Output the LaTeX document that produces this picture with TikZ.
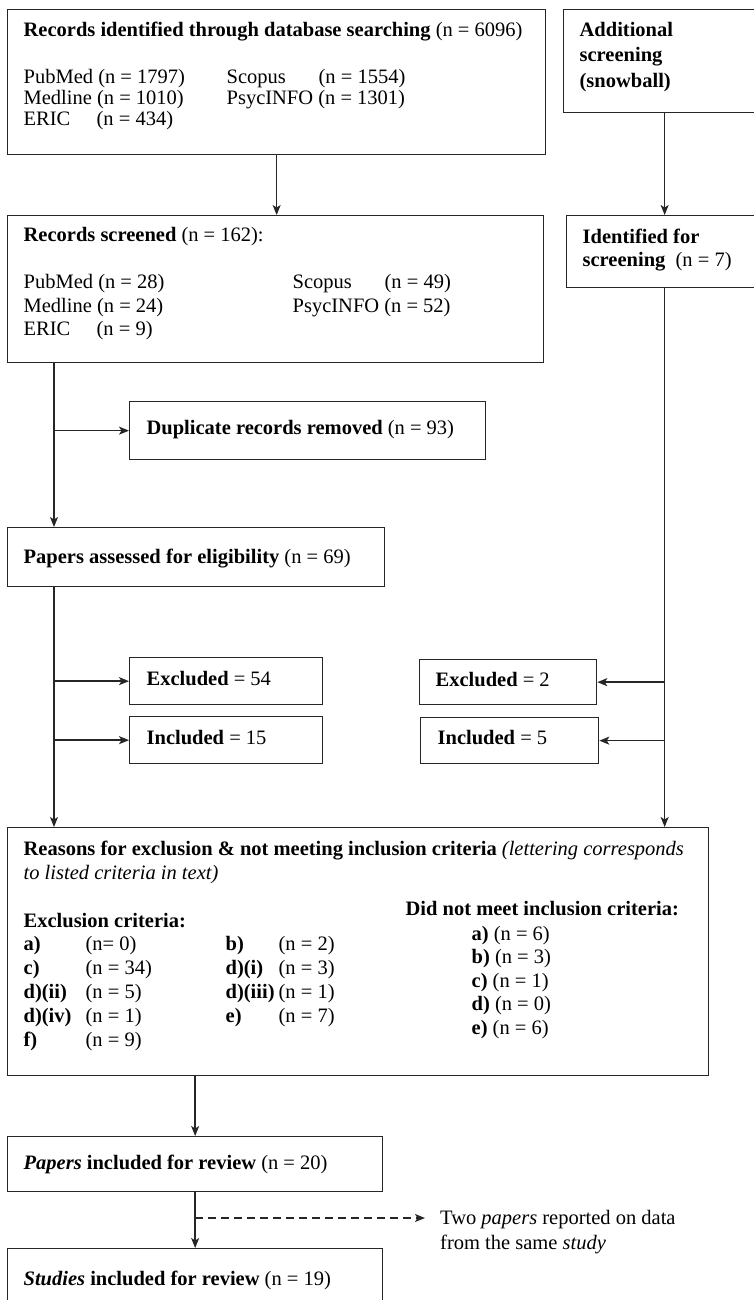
\documentclass[tikz,border=0pt]{standalone}
\usepackage{fontspec}
\setmainfont{Liberation Serif}
\usepackage{tikz}
\usetikzlibrary{arrows.meta}
\newcommand{\boxtext}[4]{\parbox[c][#2][t]{#1}{\raggedright\vspace*{#3}#4}}

\begin{document}
\begin{tikzpicture}[x=1pt,y=-1pt,every node/.style={font=\fontsize{20.5}{23.5}\selectfont},
  box/.style={draw=black!85,line width=1.3pt,anchor=north west,inner ysep=0pt,inner xsep=16pt},
  arr/.style={draw=black!85,line width=1.4pt,-{Stealth[length=10pt,width=8pt,inset=2.5pt]}}]
  \useasboundingbox (0,0) rectangle (754,1300);
  \clip (0,0) rectangle (754,1300);
  \node[box] (recs) at (7,9) {\boxtext{506pt}{145pt}{12pt}{\textbf{Records identified through database searching} (n = 6096)\par\vspace{23.5pt}
    \makebox[203pt][l]{PubMed (n = 1797)}\makebox[92pt][l]{Scopus}(n = 1554)\\[-2.5pt]
    \makebox[203pt][l]{Medline (n = 1010)}PsycINFO (n = 1301)\\[-2.5pt]
    \makebox[73pt][l]{ERIC}(n = 434)}};
  \node[box] (snow) at (563,9) {\boxtext{170pt}{103pt}{13pt}{\textbf{Additional\\[1.5pt]screening\\[2pt](snowball)}}};
  \node[box] (screened) at (7,215) {\boxtext{504pt}{147pt}{12pt}{\textbf{Records screened} (n = 162):\par\vspace{23.5pt}
    \makebox[269pt][l]{PubMed (n = 28)}\makebox[92pt][l]{Scopus}(n = 49)\\
    \makebox[269pt][l]{Medline (n = 24)}PsycINFO (n = 52)\\
    \makebox[73pt][l]{ERIC}(n = 9)}};
  \node[box] (ident) at (566,215) {\boxtext{164pt}{72pt}{13pt}{\textbf{Identified for\\screening}~ (n = 7)}};
  \node[box,inner xsep=17pt] (dup) at (129,401) {\boxtext{322pt}{58pt}{19pt}{\textbf{Duplicate records removed} (n = 93)}};
  \node[box] (assess) at (7,527) {\boxtext{345pt}{59pt}{21pt}{\textbf{Papers assessed for eligibility} (n = 69)}};
  \node[box,inner xsep=17pt] (excl) at (129,657) {\boxtext{159pt}{47pt}{14pt}{\textbf{Excluded} = 54}};
  \node[box,inner xsep=17pt] (incl) at (129,716) {\boxtext{159pt}{47pt}{14pt}{\textbf{Included} = 15}};
  \node[box] (exclsnow) at (419,659) {\boxtext{145pt}{45pt}{13pt}{\textbf{Excluded} = 2}};
  \node[box,inner xsep=17pt] (inclsnow) at (420,717) {\boxtext{144pt}{46pt}{13pt}{\textbf{Included} = 5}};
  \node[box] (reasons) at (7,827) {\boxtext{669pt}{248pt}{13pt}{\mbox{\textbf{Reasons for exclusion \& not meeting inclusion criteria} \textit{(lettering corresponds}}\\[0.5pt]
    \textit{to listed criteria in text)}\par\vspace{24.5pt}
    \parbox[t]{382pt}{\textbf{Exclusion criteria:}\\
      \makebox[62pt][l]{\textbf{a)}}\makebox[140pt][l]{(n= 0)}\makebox[53pt][l]{\textbf{b)}}(n = 2)\\[0.5pt]
      \makebox[62pt][l]{\textbf{c)}}\makebox[140pt][l]{(n = 34)}\makebox[53pt][l]{\textbf{d)(i)}}(n = 3)\\[0.5pt]
      \makebox[62pt][l]{\textbf{d)(ii)}}\makebox[140pt][l]{(n = 5)}\makebox[53pt][l]{\textbf{d)(iii)}}(n = 1)\\[0.5pt]
      \makebox[62pt][l]{\textbf{d)(iv)}}\makebox[140pt][l]{(n = 1)}\makebox[53pt][l]{\textbf{e)}}(n = 7)\\[0.5pt]
      \makebox[62pt][l]{\textbf{f)}}(n = 9)}%
    \raisebox{12pt}[0pt][0pt]{\parbox[t]{287pt}{\textbf{Did not meet inclusion criteria:}\\[1.5pt]
      \hspace*{66pt}\textbf{a)} (n = 6)\\
      \hspace*{66pt}\textbf{b)} (n = 3)\\
      \hspace*{66pt}\textbf{c)} (n = 1)\\
      \hspace*{66pt}\textbf{d)} (n = 0)\\
      \hspace*{66pt}\textbf{e)} (n = 6)}}}};
  \node[box] (papers) at (7,1136) {\boxtext{343pt}{55pt}{18pt}{\textbf{\textit{Papers} included for review} (n = 20)}};
  \node[box] (studies) at (7,1248) {\boxtext{343pt}{80pt}{22pt}{\textbf{\textit{Studies} included for review} (n = 19)}};
  \node[anchor=north west,inner sep=0pt,align=left] (twopap) at (440,1210) {Two \textit{papers} reported on data\\[1.5pt]from the same \textit{study}};
  \coordinate (trunk) at (54,0);
  \coordinate (dashend) at (425,1218);
  \draw[arr] (recs.south) -- (recs.south |- screened.north);
  \draw[arr] (snow.south) -- (snow.south |- ident.north);
  \draw[arr] (screened.south -| trunk) -- (assess.north -| trunk);
  \draw[arr] (dup.west -| trunk) -- (dup.west);
  \draw[arr] (assess.south -| trunk) -- (reasons.north -| trunk);
  \draw[arr] (excl.west -| trunk) -- (excl.west);
  \draw[arr] (incl.west -| trunk) -- (incl.west);
  \draw[arr] (ident.south) -- (ident.south |- reasons.north);
  \draw[arr] (ident.south |- exclsnow.east) -- (exclsnow.east);
  \draw[arr] (ident.south |- inclsnow.east) -- (inclsnow.east);
  \draw[arr] (reasons.south -| papers.north) -- (papers.north);
  \draw[arr] (papers.south) -- (studies.north);
  \draw[arr,dash pattern=on 8pt off 5pt] (dashend -| papers.south) -- (dashend);
\end{tikzpicture}
\end{document}
